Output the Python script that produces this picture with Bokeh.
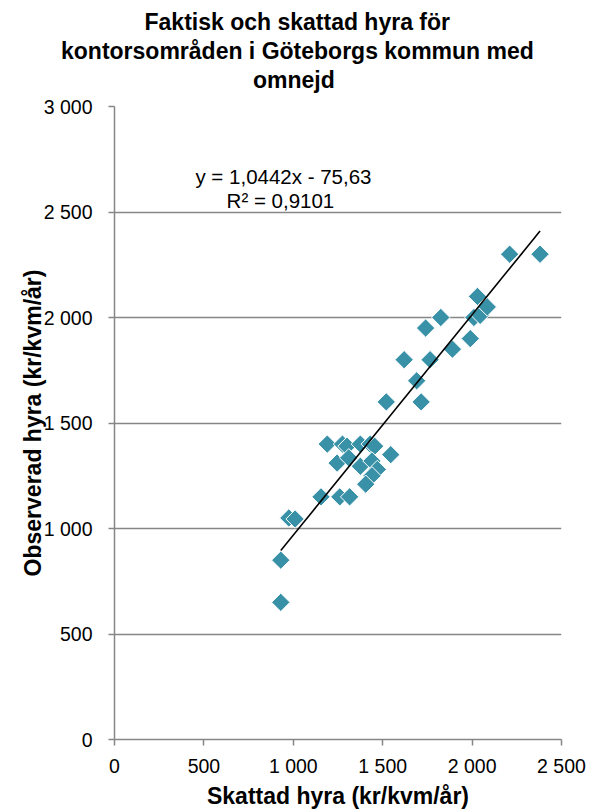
from bokeh.plotting import figure
from bokeh.models import Range1d, FixedTicker, Label, ColumnDataSource, Title
from bokeh.embed import file_html
from bokeh.resources import INLINE
import math

# ---- data ----
skattad = [930, 930, 975, 1010, 1155, 1260, 1315, 1190, 1275, 1300, 1375, 1430, 1455,
           1245, 1310, 1375, 1440, 1470, 1440, 1405, 1545, 1520, 1715, 1690, 1620, 1765,
           1890, 1740, 1825, 1990, 2010, 2045, 2030, 2085, 2210, 2380]
observerad = [650, 850, 1050, 1045, 1150, 1150, 1150, 1400, 1400, 1390, 1400, 1400, 1390,
              1310, 1335, 1295, 1320, 1280, 1250, 1210, 1350, 1600, 1600, 1700, 1800, 1800,
              1850, 1950, 2000, 1900, 2000, 2010, 2100, 2050, 2300, 2300]
slope = 1.0442
intercept = -75.63
x_ticks = [0, 500, 1000, 1500, 2000, 2500]
x_tick_labels = ["0", "500", "1 000", "1 500", "2 000", "2 500"]
y_ticks = [0, 500, 1000, 1500, 2000, 2500, 3000]
y_tick_labels = ["0", "500", "1 000", "1 500", "2 000", "2 500", "3 000"]
title_lines = ["Faktisk och skattad hyra för",
               "kontorsområden i Göteborgs kommun med",
               "omnejd"]
eq_text = "y = 1,0442x - 75,63"
r2_text = "R² = 0,9101"
x_label = "Skattad hyra (kr/kvm/år)"
y_label = "Observerad hyra (kr/kvm/år)"

FONT = "Liberation Sans"
GRAY = "#868686"
TEAL = "#3891A7"

p = figure(width=592, height=811, output_backend="svg", toolbar_location=None,
           x_range=Range1d(0, 2500), y_range=Range1d(0, 3000),
           min_border_left=114, min_border_right=31, min_border_top=106,
           min_border_bottom=70, title=None)
p.outline_line_color = None
p.background_fill_color = "white"
p.border_fill_color = "white"

# spacer between title and plot
p.add_layout(Title(text=" ", text_font_size="8.5px", standoff=1), "above")
# title lines (left aligned with offsets so that each line is centred on the canvas)
title_offsets = [30, -53.5, 138.5]
for line, off in reversed(list(zip(title_lines, title_offsets))):
    p.add_layout(Title(text=line, align="left", offset=off, standoff=1,
                       text_font=FONT, text_font_size="23px", text_font_style="bold",
                       text_color="black"), "above")

# grid
p.xgrid.visible = False
p.ygrid.ticker = FixedTicker(ticks=y_ticks)
p.ygrid.grid_line_color = GRAY
p.ygrid.grid_line_width = 1.5

for ax, ticks, labels in ((p.xaxis[0], x_ticks, x_tick_labels), (p.yaxis[0], y_ticks, y_tick_labels)):
    ax.ticker = FixedTicker(ticks=ticks)
    ax.major_label_overrides = {t: l for t, l in zip(ticks, labels)}
    ax.axis_line_color = GRAY
    ax.axis_line_width = 1.5
    ax.major_tick_line_color = GRAY
    ax.major_tick_line_width = 1.5
    ax.major_tick_in = 0
    ax.major_tick_out = 6
    ax.minor_tick_line_color = None
    ax.major_label_text_font = FONT
    ax.major_label_text_font_size = "19.5px"
    ax.major_label_text_color = "black"
    ax.axis_label_text_font = FONT
    ax.axis_label_text_font_size = "23px"
    ax.axis_label_text_font_style = "bold"
    ax.axis_label_text_color = "black"

p.xaxis[0].axis_label = x_label
p.xaxis[0].major_label_standoff = 9
p.xaxis[0].axis_label_standoff = 3
p.yaxis[0].axis_label = y_label
p.yaxis[0].major_label_standoff = 16
p.yaxis[0].axis_label_standoff = -5

# points
src = ColumnDataSource(dict(x=skattad, y=observerad))
p.scatter("x", "y", source=src, marker="square", angle=math.pi / 4, size=13,
          fill_color=TEAL, line_color="white", line_width=1)

# trend line
xmin, xmax = min(skattad), max(skattad)
p.line([xmin, xmax], [slope * xmin + intercept, slope * xmax + intercept],
       line_color="black", line_width=1.6)

# equation labels
p.add_layout(Label(x=945, y=2666, text=eq_text, text_align="center", text_baseline="middle",
                   text_font=FONT, text_font_size="20.5px", text_color="black"))
p.add_layout(Label(x=928, y=2556, text=r2_text, text_align="center", text_baseline="middle",
                   text_font=FONT, text_font_size="20.5px", text_color="black"))

open("out.html", "w").write(file_html(p, INLINE))
